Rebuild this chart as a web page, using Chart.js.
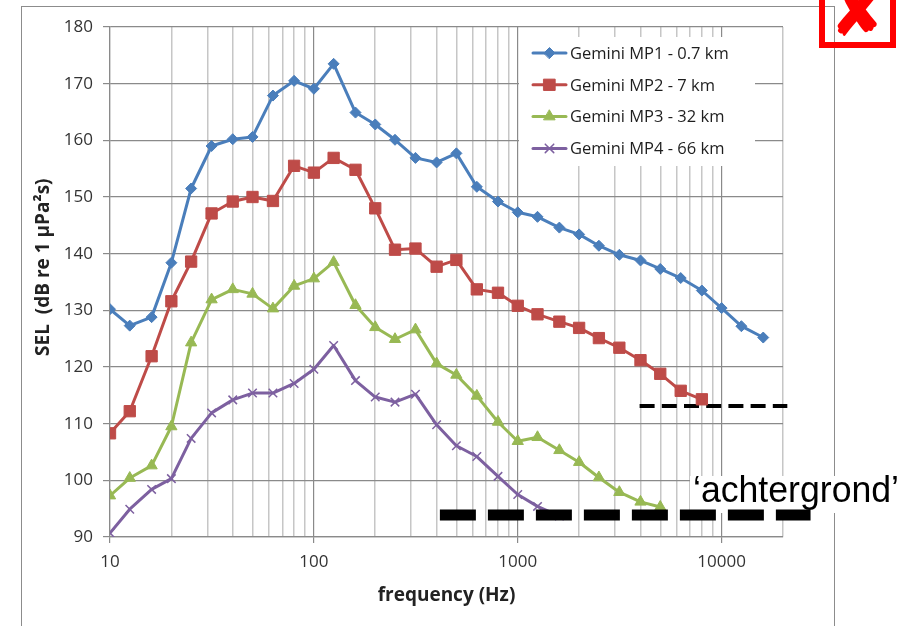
<!DOCTYPE html>
<html>
<head>
<meta charset="UTF-8">
<title>Gemini SEL</title>
<style>
  html, body { margin: 0; padding: 0; background: #fff; }
  #wrap { width: 914px; height: 626px; }
</style>
<script src="https://cdn.jsdelivr.net/npm/chart.js"></script>
</head>
<body>
<div id="wrap"><canvas id="chart" width="914" height="626"></canvas></div>
<script>
// third-octave band centre frequencies (Hz)
const freqs = [10, 12.5, 16, 20, 25, 31.5, 40, 50, 63, 80, 100, 125, 160, 200, 250, 315, 400, 500,
  630, 800, 1000, 1250, 1600, 2000, 2500, 3150, 4000, 5000, 6300, 8000, 10000, 12500, 16000];

// SEL (dB re 1 uPa^2 s)
const mp1 = [130.2, 127.3, 128.8, 138.4, 151.5, 159.0, 160.2, 160.6, 167.9, 170.5, 169.1, 173.5, 164.9,
  162.8, 160.1, 156.9, 156.1, 157.7, 151.8, 149.2, 147.3, 146.5, 144.6, 143.4, 141.4, 139.8, 138.8,
  137.3, 135.7, 133.5, 130.4, 127.2, 125.2];
const mp2 = [108.3, 112.2, 121.9, 131.6, 138.6, 147.1, 149.2, 150.0, 149.3, 155.5, 154.3, 156.9, 154.8,
  148.0, 140.7, 140.9, 137.7, 138.9, 133.7, 133.1, 130.8, 129.3, 128.0, 126.9, 125.1, 123.4, 121.2,
  118.8, 115.8, 114.3];
const mp3 = [97.3, 100.4, 102.6, 109.5, 124.3, 131.9, 133.7, 132.9, 130.3, 134.3, 135.6, 138.5, 130.9,
  127.0, 124.9, 126.6, 120.6, 118.6, 114.9, 110.3, 106.9, 107.6, 105.3, 103.2, 100.5, 97.9, 96.2, 95.3];
const mp4 = [90.7, 94.9, 98.4, 100.3, 107.4, 111.9, 114.2, 115.4, 115.4, 117.1, 119.6, 123.8, 117.6,
  114.7, 113.8, 115.2, 109.8, 106.1, 104.2, 100.7, 97.5, 95.4, 93.7];

const seriesNames = ['Gemini MP1 - 0.7 km', 'Gemini MP2 - 7 km', 'Gemini MP3 - 32 km', 'Gemini MP4 - 66 km'];

// hand drawn 'achtergrond' (background) levels on top of the chart
const bgHighFreq = [3960, 21000];
const bgHighLevel = [113.1, 113.1];
const bgLowFreq = [415, 27300];
const bgLowLevel = [93.9, 93.9];
const bgLabel = '\u2018achtergrond\u2019';

const yTicksMin = 90, yTicksMax = 180, yStep = 10;
const xMin = 10, xMax = 20000;

const toPoints = (xs, ys) => ys.map((y, i) => ({ x: xs[i], y: y }));
const isDecade = v => Math.abs(Math.log10(v) - Math.round(Math.log10(v))) < 1e-9;

const styles = [
  { color: '#4A7EBB', pointStyle: 'rectRot', radius: 5.5, pbw: 1 },
  { color: '#BE4B48', pointStyle: 'rect', radius: 8, pbw: 1 },
  { color: '#98B954', pointStyle: 'triangle', radius: 6.5, pbw: 1 },
  { color: '#7D60A0', pointStyle: 'crossRot', radius: 6, pbw: 1.5 }
];
const series = [mp1, mp2, mp3, mp4];

const datasets = series.map((vals, i) => ({
  label: seriesNames[i],
  data: toPoints(freqs, vals),
  borderColor: styles[i].color,
  backgroundColor: styles[i].color,
  pointBackgroundColor: styles[i].color,
  pointBorderColor: styles[i].color,
  pointStyle: styles[i].pointStyle,
  pointRadius: styles[i].radius,
  pointBorderWidth: styles[i].pbw,
  borderWidth: 3,
  borderJoinStyle: 'round',
  borderCapStyle: 'round',
  tension: 0,
  order: 1
}));

datasets.push({
  label: 'bg-low',
  data: toPoints(bgLowFreq, bgLowLevel),
  borderColor: '#000',
  borderWidth: 11,
  borderDash: [36, 12],
  pointRadius: 0,
  clip: false,
  order: 0
});
datasets.push({
  label: 'bg-high',
  data: toPoints(bgHighFreq, bgHighLevel),
  borderColor: '#000',
  borderWidth: 4,
  borderDash: [15, 7.2],
  pointRadius: 0,
  clip: false,
  order: 2
});

const decor = {
  id: 'decor',
  beforeDraw(chart) {
    const ctx = chart.ctx;
    ctx.save();
    ctx.fillStyle = '#fff';
    ctx.fillRect(0, 0, chart.width, chart.height);
    ctx.strokeStyle = '#8c8c8c';
    ctx.lineWidth = 1;
    ctx.strokeRect(21.5, 6.5, 813, 700);
    ctx.restore();
  },
  beforeDatasetsDraw(chart) {
    // white text box behind the label
    const ctx = chart.ctx;
    ctx.save();
    ctx.fillStyle = '#fff';
    ctx.fillRect(690, 476, 212, 37);
    ctx.restore();
  },
  afterDatasetsDraw(chart) {
    const ctx = chart.ctx;
    ctx.save();
    // legend box
    ctx.fillStyle = '#fff';
    ctx.fillRect(519, 37, 236, 129);
    series.forEach((s, i) => {
      const y = 53 + i * 31.8;
      const st = styles[i];
      ctx.strokeStyle = st.color;
      ctx.fillStyle = st.color;
      ctx.lineWidth = 3;
      ctx.lineCap = 'round';
      ctx.beginPath();
      ctx.moveTo(533, y);
      ctx.lineTo(566, y);
      ctx.stroke();
      ctx.lineWidth = st.pbw;
      Chart.helpers.drawPoint(ctx, { pointStyle: st.pointStyle, radius: st.radius, borderWidth: st.pbw, rotation: 0 }, 549.5, y);
      ctx.fillStyle = '#1e1e1e';
      ctx.font = '16.5px "Open Sans"';
      ctx.textBaseline = 'middle';
      ctx.textAlign = 'left';
      ctx.fillText(seriesNames[i], 570, y + 1);
    });
    ctx.restore();
  },
  afterDraw(chart) {
    const ctx = chart.ctx;
    ctx.save();
    ctx.fillStyle = '#000';
    ctx.font = '36px "Liberation Sans"';
    ctx.textBaseline = 'alphabetic';
    ctx.textAlign = 'left';
    ctx.fillText(bgLabel, 693, 502, 206);
    // red "X" box in the corner
    ctx.strokeStyle = '#ff0000';
    ctx.lineWidth = 6;
    ctx.strokeRect(822, -10, 71, 55);
    ctx.fillStyle = '#ff0000';
    ctx.font = 'bold 72px "DejaVu Sans"';
    ctx.textAlign = 'center';
    ctx.fillText('\u2718', 859, 36);
    ctx.restore();
  }
};

const tickFont = { family: '"Open Sans"', size: 17 };
const titleFont = { family: '"Open Sans"', size: 19, weight: 'bold' };

new Chart(document.getElementById('chart'), {
  type: 'line',
  data: { datasets: datasets },
  options: {
    responsive: false,
    animation: false,
    devicePixelRatio: 1,
    layout: { padding: { left: 0, top: 27, right: 131, bottom: 0 } },
    plugins: { legend: { display: false }, tooltip: { enabled: false } },
    scales: {
      x: {
        type: 'logarithmic',
        min: xMin,
        max: xMax,
        afterBuildTicks(scale) {
          scale.ticks = scale.ticks.filter(t => {
            const m = t.value / Math.pow(10, Math.floor(Math.log10(t.value) + 1e-9));
            return Math.abs(m - Math.round(m)) < 1e-6;
          });
        },
        afterFit(scale) { scale.height = 89; },
        ticks: {
          autoSkip: false,
          maxRotation: 0,
          padding: 9,
          color: '#333',
          font: tickFont,
          callback: v => isDecade(v) ? String(Math.round(v)) : ''
        },
        grid: {
          color: c => (c.tick && isDecade(c.tick.value)) ? '#8a8a8a' : '#c6c6c6',
          lineWidth: c => (c.tick && isDecade(c.tick.value)) ? 1.2 : 1.5,
          tickColor: c => (c.tick && isDecade(c.tick.value)) ? '#8a8a8a' : 'rgba(0,0,0,0)',
          tickLength: 6
        },
        border: { color: '#8a8a8a', width: 1.2 },
        title: {
          display: true,
          text: 'frequency (Hz)',
          color: '#222',
          font: titleFont,
          padding: { top: 0, bottom: 19 }
        }
      },
      y: {
        min: yTicksMin,
        max: yTicksMax,
        afterFit(scale) { scale.width = 110; },
        ticks: {
          stepSize: yStep,
          padding: 10,
          color: '#333',
          font: tickFont
        },
        grid: { color: '#8a8a8a', tickColor: '#8a8a8a', tickLength: 7, lineWidth: 1.2 },
        border: { color: '#8a8a8a', width: 1.2 },
        title: {
          display: true,
          // leading spaces push the centred title up a little, as in the source
          text: '      SEL  (dB re 1 \u00B5Pa\u00B2s)',
          color: '#222',
          font: titleFont,
          padding: { top: 32, bottom: 0 }
        }
      }
    }
  },
  plugins: [decor]
});
</script>
</body>
</html>
